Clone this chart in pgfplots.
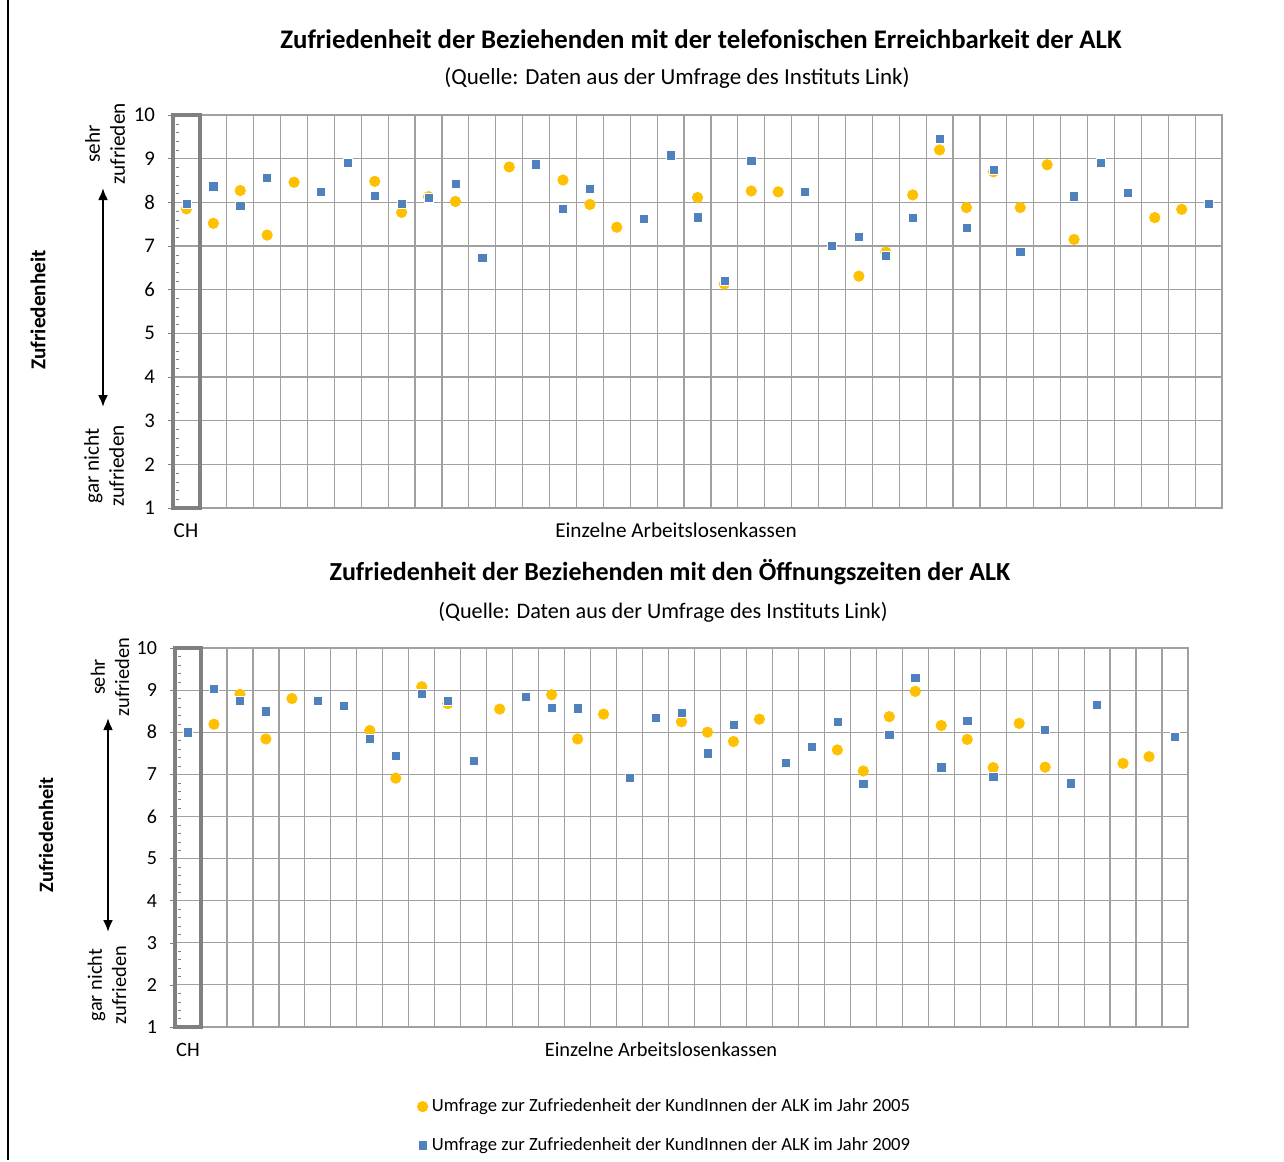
\documentclass[border=0pt]{standalone}
\usepackage{fontspec}
\setmainfont{Carlito}
\usepackage{pgfplots}
\pgfplotsset{compat=1.18}
\usetikzlibrary{arrows.meta}

\definecolor{ora}{HTML}{FFC000}
\definecolor{blu}{HTML}{4F81BD}
\definecolor{gridc}{HTML}{A0A0A0}
\definecolor{boxc}{HTML}{808080}

% common look of both panels
\pgfplotsset{
  alk/.style={
    scale only axis,
    anchor=north west,
    xmin=0.5, xmax=39.5, ymin=1, ymax=10,
    xtick={0.5,1.5,...,39.5}, xticklabels={},
    xtick style={draw=none},
    xmajorgrids,
    ytick={1,...,10}, ytick pos=left,
    minor y tick num=4,
    ymajorgrids,
    tick align=outside,
    major tick length=2.5pt,
    minor tick length=1.6pt,
    minor y tick style={xshift=3pt, boxc},
    major y tick style={boxc},
    major grid style={gridc, line width=0.6pt},
    axis line style={gridc, line width=0.6pt},
    /pgf/number format/assume math mode=true,
    yticklabel style={font=\fontsize{10.4}{12}\selectfont, xshift=-3pt},
    clip=false,
  },
  p05/.style={only marks, mark=*, mark size=2.6pt, mark options={fill=ora, draw=ora}},
  p09/.style={only marks, mark=square*, mark size=2.3pt, mark options={fill=blu, draw=white, line width=0.25pt}},
}

\begin{document}
\begin{tikzpicture}

\begin{scope}[x=0.5pt,y=-0.5pt]
  \useasboundingbox (0,0) rectangle (1284,1160);
  \draw[line width=0.6pt] (8,0) -- (8,1160);

  % top panel texts
  \node[anchor=base, font=\bfseries\fontsize{13.4}{15}\selectfont] at (701,48)
    {Zufriedenheit der Beziehenden mit der telefonischen Erreichbarkeit der ALK};
  \node[anchor=base, font=\fontsize{11.5}{13}\selectfont] at (677,84)
    {(Quelle: Daten aus der Umfrage des Instituts Link)};
  \node[anchor=base, font=\fontsize{10.6}{12}\selectfont] at (186,537) {CH};
  \node[anchor=base, font=\fontsize{10.6}{12}\selectfont] at (676,537) {Einzelne Arbeitslosenkassen};
  \node[rotate=90, font=\bfseries\fontsize{10.6}{12}\selectfont] at (38,310) {Zufriedenheit};
  \node[rotate=90, align=center, font=\fontsize{10.6}{12.5}\selectfont] at (105,144) {sehr\\zufrieden};
  \node[rotate=90, align=center, font=\fontsize{10.6}{12.5}\selectfont] at (104,466) {gar nicht\\zufrieden};
  \draw[line width=1.1pt, {Latex[length=6pt,width=5pt]}-{Latex[length=6pt,width=5pt]}] (103,188) -- (103,407);

  % bottom panel texts
  \node[anchor=base, font=\bfseries\fontsize{13}{15}\selectfont] at (670,580)
    {Zufriedenheit der Beziehenden mit den Öffnungszeiten der ALK};
  \node[anchor=base, font=\fontsize{11.1}{13}\selectfont] at (663,618)
    {(Quelle: Daten aus der Umfrage des Instituts Link)};
  \node[anchor=base, font=\fontsize{10.2}{12}\selectfont] at (188,1056) {CH};
  \node[anchor=base, font=\fontsize{10.2}{12}\selectfont] at (661,1056) {Einzelne Arbeitslosenkassen};
  \node[rotate=90, font=\bfseries\fontsize{10.2}{12}\selectfont] at (46,835) {Zufriedenheit};
  \node[rotate=90, align=center, font=\fontsize{10.2}{12.2}\selectfont] at (110,677) {sehr\\zufrieden};
  \node[rotate=90, align=center, font=\fontsize{10.2}{12.2}\selectfont] at (107,985) {gar nicht\\zufrieden};
  \draw[line width=1.1pt, {Latex[length=6pt,width=5pt]}-{Latex[length=6pt,width=5pt]}] (108,718) -- (108,932);
\end{scope}

% top panel: telefonische Erreichbarkeit
\begin{axis}[alk, at={(86.5pt,-57.5pt)}, width=524.5pt, height=196.5pt]
  \draw[boxc, line width=2pt] (axis cs:0.5,1) rectangle (axis cs:1.5,10);
  \addplot[p05] coordinates {
    (1,7.85) (2,7.52) (3,8.27) (4,7.25) (5,8.46) (8,8.48) (9,7.77) (10,8.13)
    (11,8.02) (13,8.81) (15,8.51) (16,7.95) (17,7.43) (20,8.11) (21,6.13)
    (22,8.26) (23,8.24) (26,6.31) (27,6.86) (28,8.17) (29,9.20) (30,7.88)
    (31,8.70) (32,7.88) (33,8.86) (34,7.15) (37,7.65) (38,7.84)
  };
  \addplot[p09] coordinates {
    (1,7.96) (2,8.37) (3,7.92) (4,8.57) (6,8.24) (7,8.90) (8,8.16) (9,7.96)
    (10,8.10) (11,8.42) (12,6.73) (14,8.87) (15,7.85) (16,8.31) (18,7.63)
    (19,9.08) (20,7.66) (21,6.21) (22,8.95) (24,8.25) (25,7.00) (26,7.21)
    (27,6.78) (28,7.64) (29,9.45) (30,7.41) (31,8.74) (32,6.87) (34,8.14)
    (35,8.91) (36,8.22) (39,7.96)
  };
\end{axis}

% bottom panel: Oeffnungszeiten
\begin{axis}[alk, at={(87.5pt,-324pt)}, width=506.5pt, height=189.5pt,
  yticklabel style={font=\fontsize{10}{12}\selectfont},
  legend style={at={(0.233,-0.167)}, anchor=north west, draw=none, fill=none,
    font=\fontsize{9.3}{11}\selectfont, row sep=7.3pt,
    /tikz/every even column/.append style={column sep=1pt}},
  legend cell align=left]
  \draw[boxc, line width=2pt] (axis cs:0.5,1) rectangle (axis cs:1.5,10);
  \addplot[p05] coordinates {
    (1,8.00) (2,8.19) (3,8.90) (4,7.84) (5,8.80) (8,8.04) (9,6.91) (10,9.08)
    (11,8.68) (13,8.55) (15,8.89) (16,7.84) (17,8.43) (20,8.25) (21,8.00)
    (22,7.78) (23,8.31) (26,7.58) (27,7.08) (28,8.37) (29,8.97) (30,8.16)
    (31,7.83) (32,7.16) (33,8.21) (34,7.17) (37,7.26) (38,7.42)
  };
  \addlegendentry{Umfrage zur Zufriedenheit der KundInnen der ALK im Jahr 2005}
  \addplot[p09] coordinates {
    (1,8.00) (2,9.04) (3,8.75) (4,8.50) (6,8.75) (7,8.62) (8,7.85) (9,7.45)
    (10,8.91) (11,8.74) (12,7.33) (14,8.84) (15,8.58) (16,8.57) (18,6.92)
    (19,8.34) (20,8.47) (21,7.50) (22,8.17) (24,7.28) (25,7.65) (26,8.25)
    (27,6.78) (28,7.94) (29,9.30) (30,7.17) (31,8.27) (32,6.94) (34,8.05)
    (35,6.79) (36,8.66) (39,7.89)
  };
  \addlegendentry{Umfrage zur Zufriedenheit der KundInnen der ALK im Jahr 2009}
\end{axis}

\end{tikzpicture}
\end{document}
